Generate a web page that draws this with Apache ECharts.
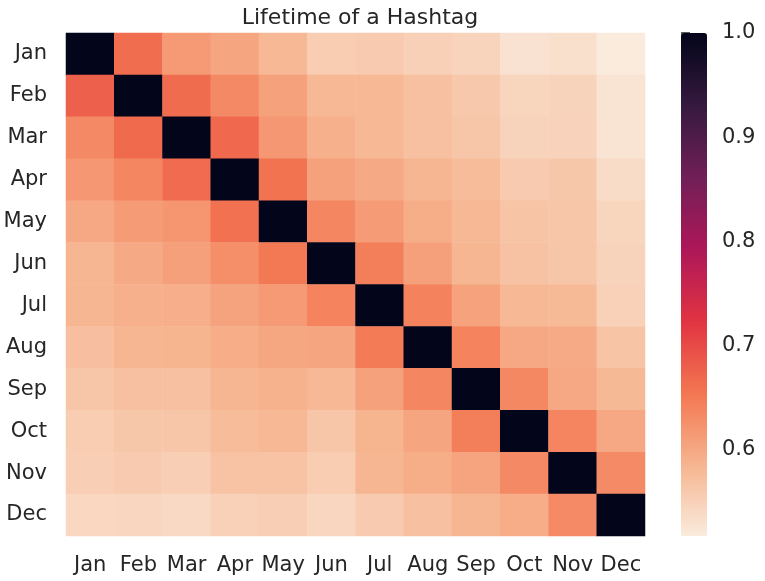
<!DOCTYPE html>
<html>
<head>
<meta charset="utf-8">
<script src="https://cdn.jsdelivr.net/npm/echarts@6/dist/echarts.min.js"></script>
<style>html,body{margin:0;padding:0;background:#fff;}#c{width:765px;height:581px;}</style>
</head>
<body>
<div id="c"></div>
<script>
const months = ['Jan','Feb','Mar','Apr','May','Jun','Jul','Aug','Sep','Oct','Nov','Dec'];
const rowJan = [1.000, 0.664, 0.615, 0.602, 0.581, 0.555, 0.558, 0.551, 0.546, 0.528, 0.531, 0.517];
const rowFeb = [0.678, 1.000, 0.665, 0.633, 0.607, 0.581, 0.581, 0.571, 0.561, 0.545, 0.547, 0.527];
const rowMar = [0.633, 0.667, 1.000, 0.668, 0.618, 0.590, 0.581, 0.571, 0.563, 0.547, 0.548, 0.526];
const rowApr = [0.618, 0.636, 0.666, 1.000, 0.658, 0.607, 0.598, 0.583, 0.575, 0.557, 0.562, 0.536];
const rowMay = [0.599, 0.614, 0.619, 0.660, 1.000, 0.637, 0.614, 0.593, 0.581, 0.566, 0.563, 0.545];
const rowJun = [0.584, 0.598, 0.608, 0.627, 0.652, 1.000, 0.645, 0.608, 0.584, 0.568, 0.565, 0.547];
const rowJul = [0.583, 0.589, 0.592, 0.605, 0.615, 0.640, 1.000, 0.642, 0.606, 0.581, 0.579, 0.550];
const rowAug = [0.572, 0.584, 0.586, 0.594, 0.600, 0.602, 0.649, 1.000, 0.640, 0.599, 0.596, 0.566];
const rowSep = [0.563, 0.570, 0.571, 0.584, 0.588, 0.581, 0.607, 0.636, 1.000, 0.635, 0.599, 0.580];
const rowOct = [0.555, 0.562, 0.563, 0.576, 0.581, 0.565, 0.586, 0.603, 0.645, 1.000, 0.638, 0.599];
const rowNov = [0.552, 0.558, 0.553, 0.567, 0.567, 0.555, 0.583, 0.593, 0.604, 0.633, 1.000, 0.632];
const rowDec = [0.542, 0.543, 0.540, 0.550, 0.552, 0.543, 0.557, 0.570, 0.583, 0.594, 0.632, 1.000];
const rows = [rowJan,rowFeb,rowMar,rowApr,rowMay,rowJun,rowJul,rowAug,rowSep,rowOct,rowNov,rowDec];
const colorTicks = [0.6, 0.7, 0.8, 0.9, 1.0];
const vmin = 0.517, vmax = 1.0;
const rocketR = ['#faebdd','#f6b48f','#f37651','#e13342','#ad1759','#701f57','#35193e','#03051a'];

const data = [];
rows.forEach((r, yi) => r.forEach((v, xi) => data.push([xi, yi, v])));

const txt = '#262626';
const font = 'DejaVu Sans';
const chart = echarts.init(document.getElementById('c'), null, {renderer: 'canvas'});
chart.setOption({
  animation: false,
  backgroundColor: '#fff',
  textStyle: {fontFamily: font},
  title: {
    text: 'Lifetime of a Hashtag',
    left: 355, top: 2, textAlign: 'center',
    textStyle: {fontFamily: font, fontSize: 22, fontWeight: 'normal', color: txt}
  },
  grid: [
    {left: 66, top: 33, width: 579, height: 503},
    {left: 681, top: 33, width: 26, height: 503}
  ],
  xAxis: [
    {type: 'category', data: months, gridIndex: 0, position: 'bottom',
     axisLine: {show: false}, axisTick: {show: false}, splitLine: {show: false},
     axisLabel: {fontSize: 21, color: txt, margin: 19, fontFamily: font, interval: 0}},
    {type: 'value', gridIndex: 1, show: false}
  ],
  yAxis: [
    {type: 'category', data: months, gridIndex: 0, inverse: true,
     axisLine: {show: false}, axisTick: {show: false}, splitLine: {show: false},
     axisLabel: {fontSize: 21, color: txt, margin: 19, fontFamily: font, interval: 0}},
    {type: 'value', gridIndex: 1, min: vmin, max: vmax, position: 'right',
     axisLine: {show: false}, splitLine: {show: false},
     axisTick: {show: true, length: 9, lineStyle: {color: txt, width: 1.5}, customValues: colorTicks},
     axisLabel: {fontSize: 21, color: txt, margin: 15, fontFamily: font, customValues: colorTicks,
                 formatter: v => v.toFixed(1)}}
  ],
  visualMap: {
    type: 'continuous', min: vmin, max: vmax, calculable: false,
    seriesIndex: 0, orient: 'vertical', left: 681, top: 33,
    itemWidth: 26, itemHeight: 503, padding: 0, text: ['', ''], showLabel: false,
    inRange: {color: rocketR}, hoverLink: false
  },
  series: [{
    type: 'heatmap', xAxisIndex: 0, yAxisIndex: 0, data: data,
    itemStyle: {borderWidth: 0}, emphasis: {disabled: true}, progressive: 0
  }]
});
</script>
</body>
</html>
